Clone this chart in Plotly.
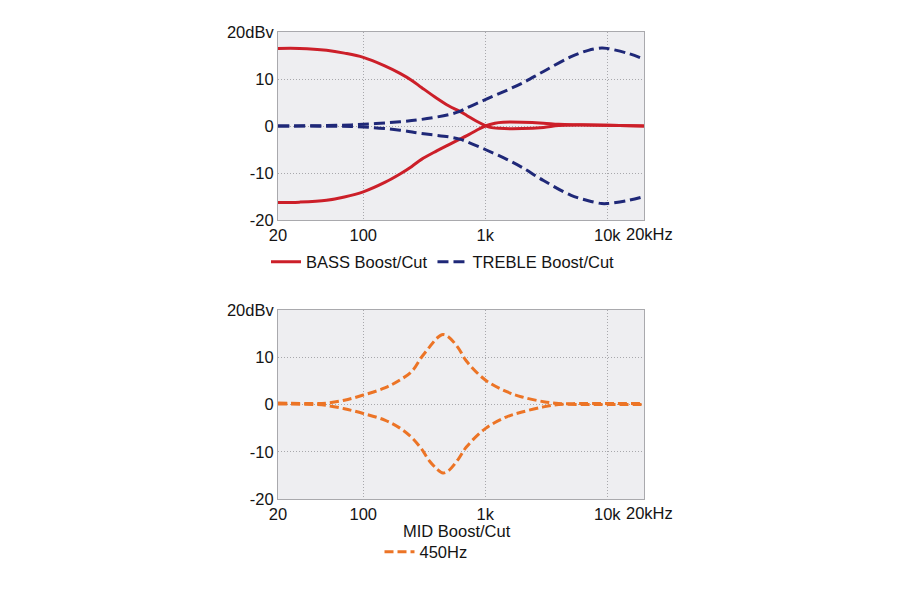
import plotly.graph_objects as go
import math

# ---------------- data ----------------
bass_freq = [20, 30, 50, 70, 100, 150, 200, 250, 300, 400, 500, 618, 700, 850, 1000, 1100, 1300, 2000, 3000, 4000, 6000, 10000, 20000]
bass_boost = [16.5, 16.5, 16.1, 15.5, 14.6, 12.8, 11.2, 9.7, 8.2, 5.9, 4.3, 3.1, 2.3, 1.0, 0.1, -0.3, -0.5, -0.55, -0.3, 0.1, 0.2, 0.15, 0.0]
bass_freq_c = [20, 30, 50, 70, 100, 150, 200, 250, 300, 400, 500, 618, 700, 850, 1000, 1200, 1400, 2000, 3000, 4000, 6000, 10000, 20000]
bass_cut = [-16.3, -16.2, -15.8, -15.1, -14.0, -12.0, -10.2, -8.6, -7.1, -5.3, -4.0, -2.8, -2.1, -0.9, 0.0, 0.6, 0.8, 0.8, 0.6, 0.35, 0.25, 0.15, 0.0]

treble_freq = [20, 50, 100, 200, 300, 500, 618, 700, 1000, 1500, 2000, 3000, 5000, 7000, 9000, 10000, 15000, 20000]
treble_boost = [0.0, 0.1, 0.35, 0.9, 1.4, 2.4, 3.1, 3.8, 5.6, 7.6, 9.1, 11.6, 14.7, 16.1, 16.6, 16.5, 15.4, 14.2]
treble_cut = [0.0, -0.05, -0.2, -0.9, -1.6, -2.3, -2.8, -3.3, -5.0, -7.1, -8.8, -11.6, -14.7, -15.9, -16.5, -16.5, -15.8, -15.0]

mid_freq = [20, 40, 50, 70, 100, 150, 200, 250, 300, 350, 400, 450, 500, 600, 700, 1000, 1500, 2000, 3000, 4000, 6000, 10000, 20000]
mid_boost = [0.3, 0.2, 0.3, 0.9, 2.0, 3.5, 5.2, 7.0, 10.0, 12.2, 14.0, 14.8, 14.3, 12.0, 9.2, 5.2, 2.7, 1.6, 0.6, 0.2, 0.2, 0.2, 0.2]
mid_cut = [0.1, 0.0, -0.2, -0.9, -1.9, -3.3, -5.0, -7.0, -9.4, -12.0, -13.6, -14.5, -14.0, -11.6, -9.0, -5.1, -2.6, -1.6, -0.5, 0.0, 0.0, 0.0, 0.0]

x_tickvals = [20, 100, 1000, 10000]
x_ticktext = ["20", "100", "1k", "10k"]
x_end_tickval = 20000
x_end_ticktext = "20kHz"
y_tickvals = [-20, -10, 0, 10, 20]
y_ticktext = ["-20", "-10", "0", "10", "20dBv"]

RED = "#cc1f29"
NAVY = "#1f2878"
ORANGE = "#ec7426"
FONT = "Liberation Sans, Arial, sans-serif"
FS = 16.5
TXT = "#141414"

fig = go.Figure()

fig.add_trace(go.Scatter(x=bass_freq, y=bass_boost, mode="lines", line=dict(color=RED, width=3, shape="spline"),
                         name="BASS Boost/Cut", legend="legend", xaxis="x", yaxis="y"))
fig.add_trace(go.Scatter(x=bass_freq_c, y=bass_cut, mode="lines", line=dict(color=RED, width=3, shape="spline"),
                         name="BASS Boost/Cut", showlegend=False, xaxis="x", yaxis="y"))
fig.add_trace(go.Scatter(x=treble_freq, y=treble_boost, mode="lines",
                         line=dict(color=NAVY, width=3, dash="11px,5px", shape="spline"),
                         name="TREBLE Boost/Cut", legend="legend", xaxis="x", yaxis="y"))
fig.add_trace(go.Scatter(x=treble_freq, y=treble_cut, mode="lines",
                         line=dict(color=NAVY, width=3, dash="11px,5px", shape="spline"),
                         name="TREBLE Boost/Cut", showlegend=False, xaxis="x", yaxis="y"))

fig.add_trace(go.Scatter(x=mid_freq, y=mid_boost, mode="lines",
                         line=dict(color=ORANGE, width=3, dash="9px,4px", shape="spline"),
                         name="450Hz", legend="legend2", xaxis="x2", yaxis="y2"))
fig.add_trace(go.Scatter(x=mid_freq, y=mid_cut, mode="lines",
                         line=dict(color=ORANGE, width=3, dash="9px,4px", shape="spline"),
                         name="450Hz", showlegend=False, xaxis="x2", yaxis="y2"))

xdom = [278 / 900, 644 / 900]
xr = [math.log10(20), math.log10(20000)]

def xaxis(anchor):
    return dict(domain=xdom, type="log", range=xr, tickvals=x_tickvals, ticktext=x_ticktext,
                showgrid=True, gridcolor="#a8a8ac", griddash="1px,2px", gridwidth=1,
                showline=True, linecolor="#a9a9ad", linewidth=1, mirror=True,
                ticks="", zeroline=False, anchor=anchor, tickangle=0, automargin=False,
                tickfont=dict(family=FONT, size=FS, color=TXT), fixedrange=True)

def yaxis(dom, anchor):
    return dict(domain=dom, range=[-20, 20], tickvals=y_tickvals, ticktext=y_ticktext,
                showgrid=True, gridcolor="#a8a8ac", griddash="1px,2px", gridwidth=1,
                showline=True, linecolor="#a9a9ad", linewidth=1, mirror=True,
                ticks="", zeroline=False, anchor=anchor, automargin=False,
                tickfont=dict(family=FONT, size=FS, color=TXT), fixedrange=True)

end_labels = [
    dict(text=x_end_ticktext, x=math.log10(x_end_tickval), xref=xr_, y=0, yref=yr_ + " domain",
         xanchor="center", yanchor="middle", yshift=-14, xshift=5, showarrow=False,
         font=dict(family=FONT, size=FS, color=TXT))
    for xr_, yr_ in (("x", "y"), ("x2", "y2"))
]

fig.update_layout(
    width=900, height=600,
    margin=dict(l=0, r=0, t=0, b=0, autoexpand=False),
    paper_bgcolor="white",
    plot_bgcolor="#eeeef1",
    font=dict(family=FONT, size=FS, color=TXT),
    xaxis=xaxis("y"),
    yaxis=yaxis([1 - 220 / 600, 1 - 32 / 600], "x"),
    xaxis2=xaxis("y2"),
    yaxis2=yaxis([1 - 499 / 600, 1 - 310 / 600], "x2"),
    legend=dict(orientation="h", x=443 / 900, xanchor="center", y=1 - 262 / 600, yanchor="middle",
                font=dict(family=FONT, size=FS, color=TXT), bgcolor="rgba(0,0,0,0)",
                itemwidth=30, tracegroupgap=0),
    legend2=dict(orientation="h", x=426 / 900, xanchor="center", y=1 - 552 / 600, yanchor="middle",
                 font=dict(family=FONT, size=FS, color=TXT), bgcolor="rgba(0,0,0,0)",
                 itemwidth=30),
    annotations=end_labels + [dict(text="MID Boost/Cut", x=457 / 900, y=1 - 531 / 600, xref="paper", yref="paper",
                      xanchor="center", yanchor="middle", showarrow=False,
                      font=dict(family=FONT, size=FS, color=TXT))],
)

fig.write_html("out.html")
